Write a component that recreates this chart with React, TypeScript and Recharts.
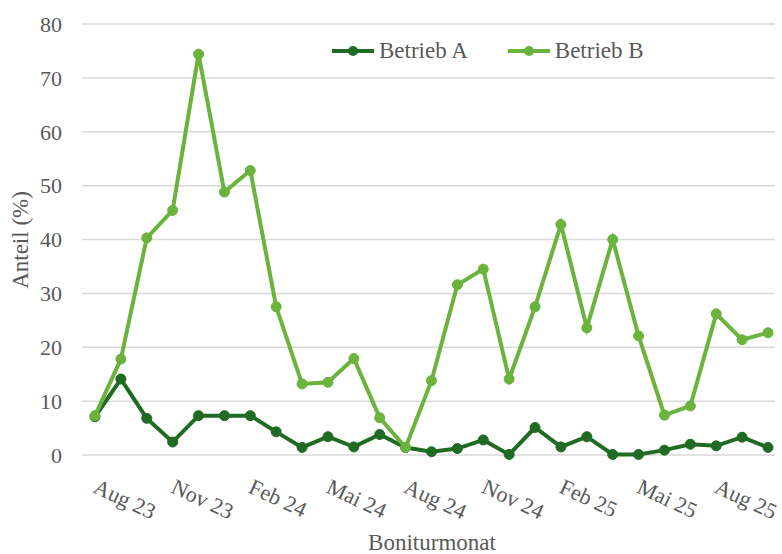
import { LineChart, Line, XAxis, YAxis, CartesianGrid } from 'recharts';

const months = [
  'Aug 23', 'Sep 23', 'Okt 23', 'Nov 23', 'Dez 23', 'Jan 24', 'Feb 24', 'Mär 24', 'Apr 24',
  'Mai 24', 'Jun 24', 'Jul 24', 'Aug 24', 'Sep 24', 'Okt 24', 'Nov 24', 'Dez 24', 'Jan 25',
  'Feb 25', 'Mär 25', 'Apr 25', 'Mai 25', 'Jun 25', 'Jul 25', 'Aug 25', 'Sep 25', 'Okt 25',
];

const betriebA = [
  7.1, 14.1, 6.8, 2.4, 7.3, 7.3, 7.3, 4.3, 1.4, 3.4, 1.5, 3.8, 1.4, 0.6, 1.2, 2.8, 0.1,
  5.1, 1.5, 3.4, 0.1, 0.1, 0.9, 2.0, 1.7, 3.3, 1.4,
];

const betriebB = [
  7.3, 17.8, 40.3, 45.4, 74.4, 48.8, 52.8, 27.5, 13.2, 13.5, 17.9, 6.9, 1.4, 13.8, 31.6,
  34.5, 14.1, 27.5, 42.8, 23.6, 40.0, 22.1, 7.4, 9.1, 26.2, 21.4, 22.7,
];

const yTicks = [0, 10, 20, 30, 40, 50, 60, 70, 80];

const DARK = '#1f6b23';
const LIGHT = '#6ab33c';
const TEXT = '#595959';
const FONT = '"Liberation Serif", "Times New Roman", serif';

const data = months.map((m, i) => ({ month: m, a: betriebA[i], b: betriebB[i] }));

const legendItems = [
  { name: 'Betrieb A', color: DARK },
  { name: 'Betrieb B', color: LIGHT },
];

const MonthTick = ({ x, y, payload }: any) => {
  const tx = x - 3;
  const ty = y + 29;
  return (
    <text
      x={tx}
      y={ty}
      transform={`rotate(25, ${tx}, ${ty})`}
      textAnchor="start"
      fill={TEXT}
      fontSize={22}
      fontFamily={FONT}
    >
      {payload.value}
    </text>
  );
};

export default function App() {
  return (
    <div style={{ position: 'absolute', left: 0, top: 0, width: 782, height: 554, background: '#fff' }}>
      <LineChart width={782} height={554} data={data} margin={{ top: 24, right: 7, bottom: 0, left: 0 }}>
        <CartesianGrid vertical={false} stroke="#d9d9d9" strokeWidth={1.5} />
        <XAxis
          dataKey="month"
          interval={2}
          tick={<MonthTick />}
          tickLine={false}
          axisLine={false}
          height={99}
          padding={{ left: 13, right: 7 }}
        />
        <YAxis
          width={82}
          domain={[0, 80]}
          ticks={yTicks}
          tickLine={false}
          axisLine={false}
          tickMargin={14}
          tick={{ fill: TEXT, fontSize: 22, fontFamily: FONT }}
        />
        <Line
          type="linear"
          dataKey="a"
          name="Betrieb A"
          stroke={DARK}
          strokeWidth={4}
          dot={{ r: 5, fill: DARK, stroke: DARK, strokeWidth: 1 }}
          isAnimationActive={false}
        />
        <Line
          type="linear"
          dataKey="b"
          name="Betrieb B"
          stroke={LIGHT}
          strokeWidth={4}
          dot={{ r: 5, fill: LIGHT, stroke: LIGHT, strokeWidth: 1 }}
          isAnimationActive={false}
        />
      </LineChart>

      {/* legend sits inside the plot, top right of centre */}
      <div style={{ position: 'absolute', left: 332, top: 38, display: 'flex', gap: 40 }}>
        {legendItems.map((it) => (
          <div key={it.name} style={{ display: 'flex', alignItems: 'center' }}>
            <svg width={42} height={14} style={{ marginRight: 5 }}>
              <line x1={0} y1={7} x2={42} y2={7} stroke={it.color} strokeWidth={4} />
              <circle cx={21} cy={7} r={5} fill={it.color} />
            </svg>
            <span style={{ color: TEXT, fontSize: 23, fontFamily: FONT }}>{it.name}</span>
          </div>
        ))}
      </div>

      <div
        style={{
          position: 'absolute', left: 21, top: 240, transform: 'translate(-50%, -50%) rotate(-90deg)',
          color: TEXT, fontSize: 23, fontFamily: FONT, whiteSpace: 'nowrap',
        }}
      >
        Anteil (%)
      </div>
      <div
        style={{
          position: 'absolute', left: 432, top: 530, transform: 'translateX(-50%)',
          color: TEXT, fontSize: 23, fontFamily: FONT, whiteSpace: 'nowrap',
        }}
      >
        Boniturmonat
      </div>
    </div>
  );
}
